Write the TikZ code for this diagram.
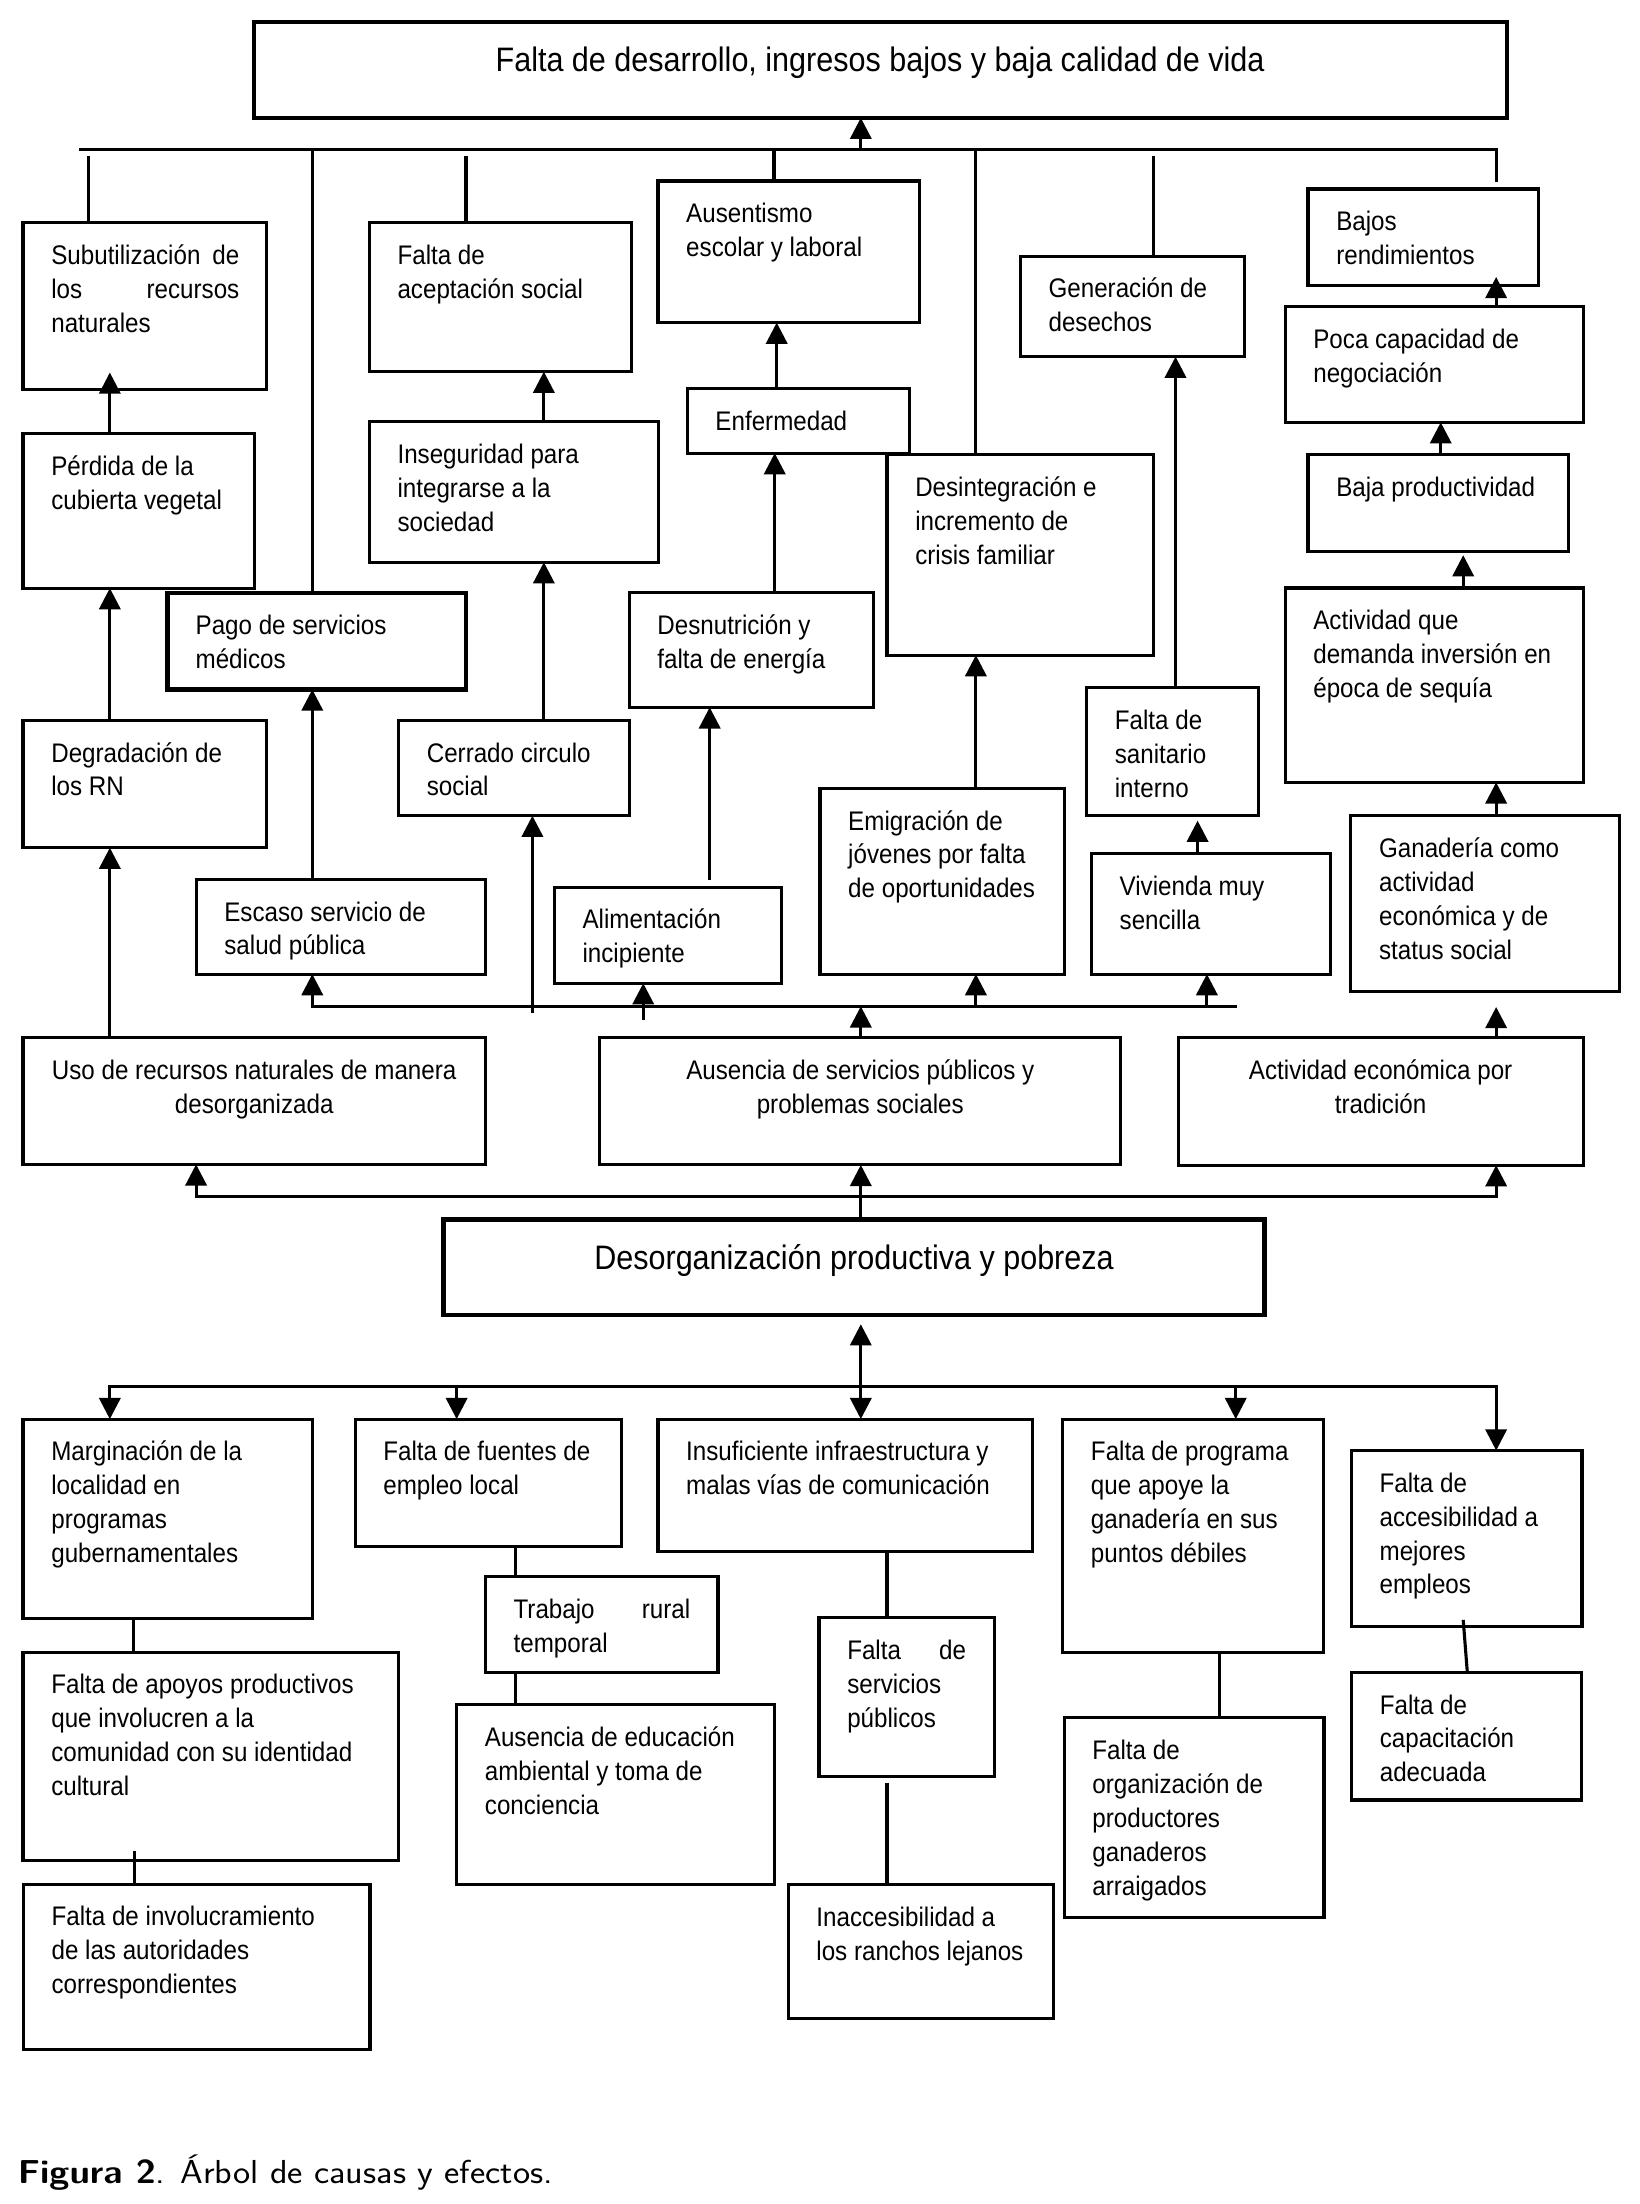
\documentclass[tikz,border=0pt]{standalone}
\usepackage{fontspec}
\usepackage{graphicx}
\setmainfont{Liberation Sans}[FakeStretch=0.9]
\usetikzlibrary{arrows.meta,calc}
\newcommand\bodyfont{\fontsize{19}{24}\selectfont}
\newcommand\titlefont{\fontsize{24}{28}\selectfont}
\newcommand\capfont{\sffamily\fontsize{23.5}{28}\selectfont}
\tikzset{
  boxs/.style={draw, rectangle, line width=2.2pt, inner sep=0pt, outer sep=0pt},
  thickbox/.style={boxs, line width=3pt},
  txt/.style={inner sep=0pt, outer sep=0pt, align=left, font=\bodyfont},
  txtc/.style={txt, align=center},
  conn/.style={line width=2.2pt},
  arr/.style={conn, -{Triangle[length=15pt,width=15pt]}},
  dbl/.style={conn, {Triangle[length=15pt,width=15pt]}-{Triangle[length=15pt,width=15pt]}}
}
% box with left-aligned text: [style]{name}{x1}{y1}{x2}{y2}{text}
\newcommand\bx[7][]{%
  \node[boxs,#1, minimum width={(#5)-(#3)}, minimum height={(#6)-(#4)}] (#2) at ({((#3)+(#5))/2},{((#4)+(#6))/2}) {};
  \node[txt, anchor=north west] (#2-t) at ({(#3)+20},{(#4)+14.5}) {\rule{0pt}{15pt}#7};}
% box with centred text
\newcommand\bxc[7][]{%
  \node[boxs,#1, minimum width={(#5)-(#3)}, minimum height={(#6)-(#4)}] (#2) at ({((#3)+(#5))/2},{((#4)+(#6))/2}) {};
  \node[txtc, anchor=north] (#2-t) at ({((#3)+(#5))/2},{(#4)+14.5}) {\rule{0pt}{15pt}#7};}
% upward arrow from node to node at a given x; optional shift of the tip
\newcommand\upar[4][0]{%
  \coordinate (x-#2-#3) at (#4,0);
  \draw[arr] (#2.north -| x-#2-#3) -- ($(#3.south -| x-#2-#3)+(0,#1)$);}
\begin{document}
\begin{tikzpicture}[x=1pt,y=-1pt]
\useasboundingbox (0,0) rectangle (1160,1559);
\fill[white] (0,0) rectangle (1160,1559);

% ---------- top effect ----------
\node[thickbox, minimum width=886.3, minimum height=67.9] (top) at (622.55,49.35) {};
\node[txt, font=\titlefont, anchor=north] (top-t) at (622.55,31.5) {\rule{0pt}{19pt}Falta de desarrollo, ingresos bajos y baja calidad de vida};

% ---------- effect boxes ----------
\bx{subut}{16.3}{157.5}{188.7}{275.5}{\makebox[133pt][s]{Subutilización de}\\\makebox[133pt][s]{los recursos}\\naturales}
\bx{perdida}{16.3}{306.8}{180.2}{416}{Pérdida de la\\cubierta vegetal}
\bx{degrad}{16.3}{509.5}{188.7}{599.6}{Degradación de\\los RN}
\bx[thickbox]{pago}{118.4}{419.4}{329.6}{487.7}{Pago de servicios\\médicos}
\bx{escaso}{138.7}{622}{343.3}{689}{Escaso servicio de\\salud pública}
\bx{acept}{261.2}{157.5}{446.5}{262.9}{Falta de\\aceptación social}
\bx{insegur}{261.2}{298.4}{465.7}{397.7}{Inseguridad para\\integrarse a la\\sociedad}
\bx{cerrado}{281.9}{509.5}{445.4}{577}{Cerrado circulo\\social}
\bx{aliment}{392.1}{627.5}{553}{695.5}{Alimentación\\incipiente}
\bx{ausent}{465.4}{128}{650.3}{228.2}{Ausentismo\\escolar y laboral}
\bx{enferm}{486.1}{275}{643.6}{320.5}{Enfermedad}
\bx{desnut}{445}{419.4}{617.7}{500.3}{Desnutrición y\\falta de energía}
\bx{desint}{627.4}{321.6}{815.7}{463.4}{Desintegración e\\incremento de\\crisis familiar}
\bx{emigr}{580}{557.6}{752.7}{689}{Emigración de\\jóvenes por falta\\de oportunidades}
\bx{gener}{721.7}{181.2}{880.4}{252.3}{Generación de\\desechos}
\bx{sanit}{768.6}{486.6}{890}{577}{Falta de\\sanitario\\interno}
\bx{vivienda}{772}{603.8}{941}{689}{Vivienda muy\\sencilla}
\bx{bajos}{925.2}{133.7}{1088.3}{201.9}{Bajos\\rendimientos}
\bx{poca}{909}{217}{1119.8}{298.7}{Poca capacidad de\\negociación}
\bx{bajaprod}{925.2}{321.6}{1109.4}{390.2}{Baja productividad}
\bx{activ}{909}{415.9}{1119.8}{553.4}{Actividad que\\demanda inversión en\\época de sequía}
\bx{ganad}{955.5}{577}{1145.3}{701.1}{Ganadería como\\actividad\\económica y de\\status social}

% ---------- middle row ----------
\bxc{uso}{16.3}{733.8}{343.3}{823.6}{Uso de recursos naturales de manera\\desorganizada}
\bxc{ausencia}{424.3}{733.8}{792.7}{824}{Ausencia de servicios públicos y\\problemas sociales}
\bxc{acteco}{833.4}{733.8}{1119.8}{824.2}{Actividad económica por\\tradición}

% ---------- core problem ----------
\node[thickbox, minimum width=580.8, minimum height=67.7] (desorg) at (604.1,896.45) {};
\node[txt, font=\titlefont, anchor=north] (desorg-t) at (604.1,879) {\rule{0pt}{19pt}Desorganización productiva y pobreza};

% ---------- cause boxes ----------
\bx{margin}{16.3}{1003.8}{220.8}{1144.8}{Marginación de la\\localidad en\\programas\\gubernamentales}
\bx{apoyos}{16.3}{1168.6}{281.9}{1316}{Falta de apoyos productivos\\que involucren a la\\comunidad con su identidad\\cultural}
\bx{involuc}{16.5}{1332.8}{261.7}{1450}{Falta de involucramiento\\de las autoridades\\correspondientes}
\bx{fuentes}{251.2}{1003.8}{439.9}{1094.2}{Falta de fuentes de\\empleo local}
\bx{trabajo}{343.3}{1115.2}{507.9}{1183.1}{\makebox[125pt][s]{Trabajo rural}\\temporal}
\bx{educ}{323}{1205.8}{547.9}{1332.9}{Ausencia de educación\\ambiental y toma de\\conciencia}
\bx{insuf}{465.4}{1003.8}{730.2}{1097.6}{Insuficiente infraestructura y\\malas vías de comunicación}
\bx{servpub}{579.3}{1144.2}{703.2}{1256.9}{\makebox[84pt][s]{Falta de}\\servicios\\públicos}
\bx{inacces}{557.5}{1332.9}{745}{1427.5}{Inaccesibilidad a\\los ranchos lejanos}
\bx{program}{751.7}{1003.8}{936.2}{1168.8}{Falta de programa\\que apoye la\\ganadería en sus\\puntos débiles}
\bx{organiz}{752.7}{1215}{936.5}{1356.5}{Falta de\\organización de\\productores\\ganaderos\\arraigados}
\bx{acces}{955.9}{1026}{1119}{1150.7}{Falta de\\accesibilidad a\\mejores\\empleos}
\bx{capac}{956}{1182.9}{1118.7}{1273.2}{Falta de\\capacitación\\adecuada}

% ---------- top bus ----------
\coordinate (tbL) at (56.2,105.7);
\coordinate (tbR) at (1058.3,105.7);
\coordinate (tbE) at (1058.3,128.7);
\draw[conn] (tbL) -- (tbR) -- (tbE);
\coordinate (tbA) at (608.9,105.7);
\draw[arr] (tbA) -- (top.south -| tbA);
\coordinate (dr1) at (62.9,110.5);  \draw[conn] (dr1) -- (subut.north -| dr1);
\coordinate (dr2) at (220.9,105.7); \draw[conn] (dr2) -- (pago.north -| dr2);
\coordinate (dr3) at (329.6,110.5); \draw[conn] (dr3) -- (acept.north -| dr3);
\coordinate (dr4) at (547.5,105.7); \draw[conn] (dr4) -- (ausent.north -| dr4);
\coordinate (dr5) at (690.3,105.7); \draw[conn] (dr5) -- (desint.north -| dr5);
\coordinate (dr6) at (815.7,110.5); \draw[conn] (dr6) -- (gener.north -| dr6);

% ---------- effect chains ----------
\upar[-12]{perdida}{subut}{77.7}
\upar{degrad}{perdida}{77.7}
\upar{uso}{degrad}{77.7}
\upar{escaso}{pago}{220.9}
\upar{insegur}{acept}{384.7}
\upar{cerrado}{insegur}{384.7}
\upar{enferm}{ausent}{549.4}
\upar{desnut}{enferm}{548}
\upar{emigr}{desint}{690.3}
\upar{sanit}{gener}{831.5}
\upar[3.5]{vivienda}{sanit}{847.1}
\upar[-6]{poca}{bajos}{1058.3}
\upar{bajaprod}{poca}{1019.1}
\upar[2.5]{activ}{bajaprod}{1035}
\upar{ganad}{activ}{1058.3}
\upar{desorg}{ausencia}{608.9}
\coordinate (al) at (502,622.8); \draw[arr] (al) -- (desnut.south -| al);
\coordinate (ae) at (1058.3,712.3); \draw[arr] (acteco.north -| ae) -- (ae);

% ---------- middle bus ----------
\coordinate (mbL) at (220.9,711.8);
\coordinate (mbR) at (874.8,711.8);
\draw[arr] (mbR) -- (mbL) -- (escaso.south -| mbL);
\coordinate (mc1) at (376.6,716.5); \draw[arr] (mc1) -- (cerrado.south -| mc1);
\coordinate (mc2) at (455,721.5);   \draw[arr] (mc2) -- (aliment.south -| mc2);
\coordinate (mc3) at (608.9,711.8); \draw[arr] (ausencia.north -| mc3) -- (mc3);
\coordinate (mc4) at (690.3,711.8); \draw[arr] (mc4) -- (emigr.south -| mc4);
\coordinate (mc5) at (853.7,711.8); \draw[arr] (mc5) -- (vivienda.south -| mc5);

% ---------- lower bus ----------
\coordinate (lbL) at (138.7,846.5);
\coordinate (lbR) at (1058.3,846.5);
\draw[dbl] (uso.south -| lbL) -- (lbL) -- (lbR) -- (acteco.south -| lbR);

% ---------- cause bus ----------
\coordinate (bbL) at (77.7,980.9);
\coordinate (bbR) at (1058.3,980.9);
\draw[dbl] (margin.north -| bbL) -- (bbL) -- (bbR) -- (acces.north -| bbR);
\coordinate (bc1) at (323,980.9);   \draw[arr] (bc1) -- (fuentes.north -| bc1);
\coordinate (bc2) at (874.1,980.9); \draw[arr] (bc2) -- (program.north -| bc2);
\coordinate (dtip) at (608.9,936.7); \draw[dbl] (dtip) -- (insuf.north -| dtip);

% ---------- cause chains ----------
\coordinate (l1) at (94.7,0);      \draw[conn] (margin.south -| l1) -- (apoyos.north -| l1);
\coordinate (l2) at (95,1309);     \draw[conn] (l2) -- (involuc.north -| l2);
\coordinate (l3) at (364.4,0);     \draw[conn] (fuentes.south -| l3) -- (trabajo.north -| l3);
                                   \draw[conn] (trabajo.south -| l3) -- (educ.north -| l3);
\coordinate (l4) at (627.4,0);     \draw[conn] (insuf.south -| l4) -- (servpub.north -| l4);
\coordinate (l5) at (627.4,1261);  \draw[conn] (l5) -- (inacces.north -| l5);
\coordinate (l6) at (862.6,0);     \draw[conn] (program.south -| l6) -- (organiz.north -| l6);
\coordinate (l7) at (1035,1145.8);
\coordinate (l8) at (1037.9,0);    \draw[conn] (l7) -- (capac.north -| l8);

% ---------- caption ----------
\node[inner sep=0pt, anchor=base west, font=\capfont] (cap) at (12.5,1544.5) {\scalebox{1.095}[1]{\textbf{Figura 2}. Árbol de causas y efectos.}};
\end{tikzpicture}
\end{document}
